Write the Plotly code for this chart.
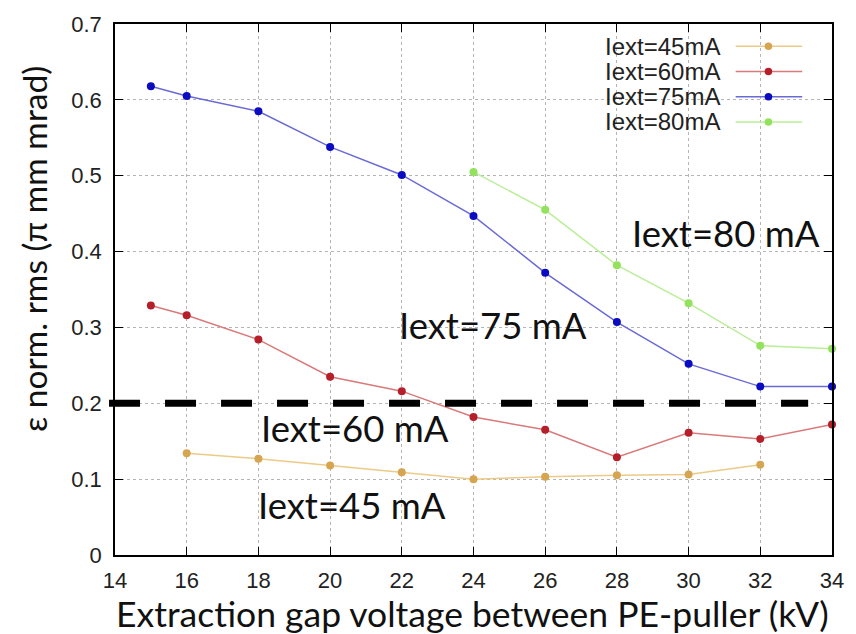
import plotly.graph_objects as go

# ---- data ----
x45 = [16, 18, 20, 22, 24, 26, 28, 30, 32]
y45 = [0.134, 0.127, 0.118, 0.109, 0.100, 0.103, 0.105, 0.106, 0.119]
x60 = [15, 16, 18, 20, 22, 24, 26, 28, 30, 32, 34]
y60 = [0.329, 0.316, 0.284, 0.235, 0.216, 0.182, 0.165, 0.129, 0.161, 0.153, 0.172]
x75 = [15, 16, 18, 20, 22, 24, 26, 28, 30, 32, 34]
y75 = [0.618, 0.605, 0.585, 0.538, 0.501, 0.447, 0.372, 0.307, 0.252, 0.222, 0.222]
x80 = [24, 26, 28, 30, 32, 34]
y80 = [0.505, 0.455, 0.382, 0.332, 0.276, 0.272]
threshold = 0.2
names = ["Iext=45mA", "Iext=60mA", "Iext=75mA", "Iext=80mA"]
labels = ["Iext=45 mA", "Iext=60 mA", "Iext=75 mA", "Iext=80 mA"]
label_x = [20.62, 20.70, 24.54, 31.03]
label_y = [0.0665, 0.168, 0.3026, 0.424]
x_ticks = list(range(14, 35, 2))
y_ticks = [0, 0.1, 0.2, 0.3, 0.4, 0.5, 0.6, 0.7]

line_cols = ["#EBCB86", "#D9797A", "#6A6AD6", "#B9EE96"]
mark_cols = ["#D6A552", "#B51F2A", "#0B0BC2", "#92E25E"]

W, H = 856, 634
ML, MR, MT, MB = 115, 19, 18, 79
PW, PH = W - ML - MR, H - MT - MB

fig = go.Figure()
series = [(x45, y45), (x60, y60), (x75, y75), (x80, y80)]
for i, (xs, ys) in enumerate(series):
    fig.add_trace(go.Scatter(
        x=xs, y=ys, mode="lines+markers", name=names[i],
        line=dict(color=line_cols[i], width=1.5),
        marker=dict(color=mark_cols[i], size=8),
        showlegend=False, cliponaxis=False))

shapes = []
# threshold dashed line
shapes.append(dict(type="line", xref="paper", yref="y",
                   x0=-6 / PW, x1=(813 - ML) / PW, y0=threshold, y1=threshold,
                   line=dict(color="black", width=7, dash="31px,25px"), layer="above"))

SANS = "Liberation Sans, Arial"

# manual gnuplot-like legend
shapes.append(dict(type="rect", xref="paper", yref="paper",
                   x0=(598 - ML) / PW, x1=(820 - ML) / PW,
                   y0=1 - (131 - MT) / PH, y1=1 - (27 - MT) / PH,
                   fillcolor="white", line=dict(width=0), layer="between"))
annotations = []
for i, nm in enumerate(names):
    py = 40.5 + 25.5 * i
    yp = 1 - (py - MT) / PH
    annotations.append(dict(text=nm, xref="paper", yref="paper",
                            x=(726 - ML) / PW, y=yp, xanchor="right", yanchor="middle",
                            showarrow=False,
                            font=dict(family=SANS, size=24, color="#222")))
    shapes.append(dict(type="line", xref="paper", yref="paper",
                       x0=(740 - ML) / PW, x1=(807 - ML) / PW, y0=yp, y1=yp,
                       line=dict(color=line_cols[i], width=1.5)))
    r = 3.8
    shapes.append(dict(type="circle", xref="paper", yref="paper",
                       x0=(773 - r - ML) / PW, x1=(773 + r - ML) / PW,
                       y0=yp - r / PH, y1=yp + r / PH,
                       fillcolor=mark_cols[i], line=dict(width=0)))

for i, t in enumerate(labels):
    annotations.append(dict(text=t, x=label_x[i], y=label_y[i], xref="x", yref="y",
                            showarrow=False, xanchor="center", yanchor="middle",
                            font=dict(family="Lato", size=36.5, color="#111")))

annotations.append(dict(text="Extraction gap voltage between PE-puller (kV)",
                        xref="paper", yref="paper", x=(474.5 - ML) / PW, y=-(614 - MT - PH) / PH,
                        xanchor="center", yanchor="middle", showarrow=False,
                        font=dict(family="Lato", size=35.5, color="#111")))
annotations.append(dict(text="ε norm. rms (π mm mrad)",
                        xref="paper", yref="paper", x=-(ML - 34) / PW, y=1 - (246 - MT) / PH,
                        xanchor="center", yanchor="middle", showarrow=False, textangle=-90,
                        font=dict(family="Lato", size=33.5, color="#111")))

axis_common = dict(showline=True, linecolor="black", linewidth=1.5, mirror="allticks",
                   ticks="inside", ticklen=8, tickcolor="black", tickwidth=1,
                   showgrid=True, gridcolor="#b5b5b5", griddash="dot", gridwidth=1,
                   zeroline=False,
                   tickfont=dict(family=SANS, size=22, color="#222"))

fig.update_layout(
    width=W, height=H, margin=dict(l=ML, r=MR, t=MT, b=MB),
    paper_bgcolor="white", plot_bgcolor="white",
    xaxis=dict(range=[14, 34], tickvals=x_ticks, ticklabelstandoff=5, **axis_common),
    yaxis=dict(range=[0, 0.7], tickvals=y_ticks, ticktext=[("0" if v == 0 else f"{v:.1f}") for v in y_ticks],
               ticklabelstandoff=7, **axis_common),
    shapes=shapes, annotations=annotations, showlegend=False)

fig.write_html("out.html")
